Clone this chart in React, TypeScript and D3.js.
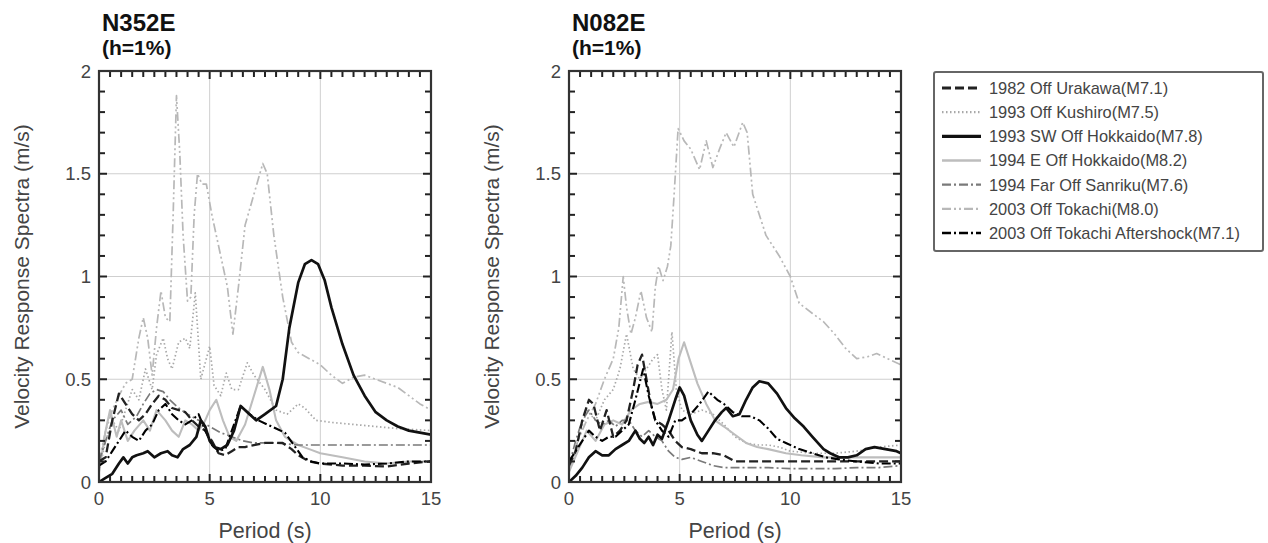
import React from 'react';
import * as d3 from 'd3';

type Pt = [number, number];

// ---------- axis / tick definitions ----------
const PERIOD_TICKS = [0, 5, 10, 15];
const VALUE_TICKS = [0, 0.5, 1, 1.5, 2];
const PERIOD_GRID = [5, 10];
const VALUE_GRID = [0.5, 1, 1.5];
const PERIOD_DOMAIN: [number, number] = [0, 15];
const VALUE_DOMAIN: [number, number] = [0, 2];

const PANEL_TITLES = ['N352E', 'N082E'];
const DAMPING_LABEL = '(h=1%)';
const X_LABEL = 'Period (s)';
const Y_LABEL = 'Velocity Response Spectra (m/s)';

const SERIES_NAMES = [
  '1982 Off Urakawa(M7.1)',
  '1993 Off Kushiro(M7.5)',
  '1993 SW Off Hokkaido(M7.8)',
  '1994 E Off Hokkaido(M8.2)',
  '1994 Far Off Sanriku(M7.6)',
  '2003 Off Tokachi(M8.0)',
  '2003 Off Tokachi Aftershock(M7.1)',
];

// ---------- N352E data [period (s), velocity (m/s)] ----------
const N352E_URAKAWA: Pt[] = [[0,0.1],[0.3,0.12],[0.6,0.3],[0.9,0.43],[1.2,0.38],[1.5,0.33],[1.8,0.3],[2.1,0.33],[2.4,0.38],[2.7,0.42],[3.0,0.4],[3.3,0.36],[3.6,0.35],[3.9,0.34],[4.2,0.3],[4.5,0.27],[4.8,0.25],[5.1,0.2],[5.4,0.14],[5.7,0.13],[6.0,0.15],[6.3,0.17],[6.6,0.17],[7,0.18],[7.5,0.19],[8,0.19],[8.3,0.19],[8.7,0.16],[9,0.13],[9.5,0.1],[10,0.09],[11,0.08],[12,0.08],[13,0.075],[14,0.09],[15,0.1]];
const N352E_KUSHIRO: Pt[] = [[0,0.05],[0.3,0.2],[0.6,0.3],[0.9,0.25],[1.2,0.35],[1.5,0.45],[1.8,0.4],[2.1,0.55],[2.4,0.45],[2.6,0.62],[2.9,0.7],[3.1,0.6],[3.3,0.55],[3.6,0.68],[3.9,0.7],[4.1,0.65],[4.35,0.92],[4.6,0.5],[4.85,0.6],[5.0,0.66],[5.2,0.47],[5.5,0.42],[5.75,0.53],[6.0,0.45],[6.3,0.45],[6.7,0.58],[7.0,0.52],[7.5,0.45],[8.0,0.35],[8.5,0.33],[9.0,0.38],[9.3,0.36],[9.8,0.3],[10.5,0.29],[11.5,0.28],[12.5,0.27],[13.5,0.26],[15,0.25]];
const N352E_SW_HOKKAIDO: Pt[] = [[0,0.0],[0.3,0.02],[0.6,0.04],[0.9,0.09],[1.1,0.12],[1.3,0.09],[1.5,0.12],[1.7,0.13],[2.0,0.14],[2.2,0.15],[2.5,0.12],[2.8,0.14],[3.1,0.15],[3.3,0.13],[3.55,0.12],[3.8,0.16],[4.1,0.18],[4.4,0.22],[4.6,0.3],[4.8,0.27],[5.0,0.2],[5.2,0.17],[5.5,0.16],[5.8,0.18],[6.1,0.25],[6.4,0.37],[6.8,0.33],[7.1,0.3],[7.5,0.33],[8.0,0.37],[8.3,0.5],[8.6,0.75],[9.0,0.97],[9.3,1.06],[9.6,1.08],[9.9,1.06],[10.2,0.98],[10.5,0.85],[11.0,0.67],[11.5,0.52],[12.0,0.42],[12.5,0.34],[13.0,0.3],[13.5,0.27],[14.0,0.25],[14.5,0.24],[15,0.23]];
const N352E_E_HOKKAIDO: Pt[] = [[0,0.05],[0.3,0.25],[0.5,0.35],[0.8,0.22],[1.0,0.3],[1.3,0.2],[1.6,0.25],[2.0,0.3],[2.3,0.25],[2.6,0.35],[3.0,0.3],[3.3,0.25],[3.6,0.22],[3.9,0.3],[4.2,0.28],[4.5,0.25],[4.8,0.3],[5.0,0.35],[5.3,0.4],[5.6,0.3],[5.9,0.22],[6.2,0.2],[6.6,0.28],[7.0,0.42],[7.4,0.56],[7.7,0.45],[8.0,0.3],[8.4,0.22],[9.0,0.18],[9.5,0.16],[10,0.14],[10.5,0.13],[11,0.12],[12,0.1],[13,0.09],[14,0.1],[15,0.1]];
const N352E_SANRIKU: Pt[] = [[0,0.1],[0.3,0.2],[0.6,0.3],[1.0,0.35],[1.3,0.28],[1.7,0.32],[2.0,0.38],[2.3,0.43],[2.6,0.45],[2.9,0.44],[3.2,0.4],[3.6,0.36],[4.0,0.33],[4.5,0.3],[5.0,0.27],[5.5,0.24],[6.0,0.22],[6.5,0.2],[7.0,0.19],[7.5,0.19],[8.0,0.19],[9.0,0.18],[10,0.18],[11,0.18],[12,0.18],[13,0.18],[14,0.18],[15,0.18]];
const N352E_TOKACHI: Pt[] = [[0,0.1],[0.3,0.25],[0.6,0.35],[0.9,0.42],[1.2,0.48],[1.5,0.5],[1.8,0.7],[2.0,0.8],[2.2,0.7],[2.4,0.52],[2.6,0.75],[2.8,0.93],[3.0,0.8],[3.2,0.78],[3.35,1.3],[3.5,1.88],[3.65,1.6],[3.8,1.2],[4.0,0.88],[4.15,0.9],[4.3,1.3],[4.45,1.5],[4.65,1.45],[4.85,1.45],[5.1,1.3],[5.5,1.1],[5.8,0.95],[6.05,0.72],[6.3,0.95],[6.6,1.25],[7.0,1.4],[7.4,1.55],[7.6,1.5],[7.9,1.2],[8.3,0.9],[8.7,0.68],[9.0,0.63],[9.5,0.6],[10,0.57],[10.5,0.52],[11,0.48],[11.5,0.51],[12,0.52],[12.5,0.5],[13,0.48],[13.5,0.46],[14,0.42],[14.5,0.38],[15,0.35]];
const N352E_AFTERSHOCK: Pt[] = [[0,0.08],[0.3,0.1],[0.6,0.15],[0.9,0.2],[1.2,0.25],[1.5,0.22],[1.8,0.2],[2.1,0.25],[2.4,0.28],[2.7,0.35],[3.0,0.38],[3.3,0.33],[3.6,0.3],[3.9,0.28],[4.2,0.3],[4.5,0.33],[4.8,0.25],[5.1,0.18],[5.4,0.15],[5.7,0.16],[6.0,0.25],[6.4,0.37],[6.8,0.33],[7.2,0.3],[7.6,0.28],[8.0,0.26],[8.4,0.24],[8.8,0.18],[9.2,0.12],[9.6,0.1],[10,0.09],[11,0.09],[12,0.085],[13,0.09],[14,0.1],[15,0.1]];

// ---------- N082E data ----------
const N082E_URAKAWA: Pt[] = [[0,0.08],[0.3,0.15],[0.6,0.3],[0.9,0.4],[1.1,0.38],[1.4,0.25],[1.7,0.35],[2.0,0.22],[2.3,0.25],[2.6,0.3],[2.9,0.45],[3.1,0.57],[3.3,0.62],[3.5,0.5],[3.7,0.38],[3.9,0.3],[4.2,0.28],[4.5,0.25],[4.8,0.2],[5.1,0.17],[5.5,0.16],[6.0,0.14],[6.5,0.14],[7.0,0.13],[7.5,0.1],[8,0.1],[9,0.1],[10,0.1],[11,0.1],[12,0.1],[13,0.1],[14,0.1],[15,0.1]];
const N082E_KUSHIRO: Pt[] = [[0,0.05],[0.4,0.2],[0.8,0.35],[1.2,0.3],[1.6,0.4],[2.0,0.45],[2.3,0.55],[2.6,0.72],[2.9,0.55],[3.2,0.5],[3.5,0.55],[3.8,0.6],[4.0,0.62],[4.2,0.45],[4.4,0.35],[4.65,0.73],[4.85,0.45],[5.1,0.35],[5.5,0.33],[6.0,0.35],[6.5,0.33],[7.0,0.28],[7.5,0.22],[8.0,0.19],[8.5,0.18],[9,0.18],[9.5,0.17],[10,0.15],[11,0.14],[12,0.14],[13,0.15],[14,0.17],[15,0.18]];
const N082E_SW_HOKKAIDO: Pt[] = [[0,0.0],[0.3,0.03],[0.6,0.07],[0.9,0.12],[1.2,0.15],[1.5,0.13],[1.8,0.13],[2.1,0.16],[2.4,0.18],[2.7,0.2],[3.0,0.25],[3.2,0.21],[3.4,0.19],[3.6,0.22],[3.8,0.18],[4.0,0.23],[4.2,0.21],[4.5,0.3],[4.8,0.4],[5.0,0.46],[5.2,0.42],[5.5,0.3],[5.8,0.23],[6.0,0.2],[6.3,0.25],[6.6,0.3],[6.9,0.34],[7.1,0.36],[7.4,0.32],[7.7,0.33],[8.0,0.4],[8.3,0.46],[8.6,0.49],[9.0,0.48],[9.4,0.43],[9.8,0.36],[10.2,0.31],[10.6,0.27],[11.0,0.22],[11.5,0.16],[11.8,0.14],[12.2,0.12],[12.6,0.12],[13.0,0.13],[13.4,0.16],[13.8,0.17],[14.3,0.16],[14.8,0.15],[15,0.14]];
const N082E_E_HOKKAIDO: Pt[] = [[0,0.05],[0.4,0.15],[0.8,0.25],[1.2,0.2],[1.6,0.28],[2.0,0.3],[2.4,0.28],[2.8,0.35],[3.2,0.38],[3.6,0.39],[4.0,0.38],[4.4,0.4],[4.7,0.45],[4.95,0.6],[5.2,0.68],[5.5,0.58],[5.8,0.48],[6.2,0.38],[6.6,0.3],[7.0,0.27],[7.5,0.23],[8.0,0.19],[8.5,0.17],[9.0,0.16],[9.8,0.14],[10.5,0.13],[11.5,0.12],[12.5,0.12],[13.5,0.12],[14.5,0.12],[15,0.12]];
const N082E_SANRIKU: Pt[] = [[0,0.08],[0.3,0.2],[0.6,0.3],[0.9,0.35],[1.2,0.3],[1.5,0.28],[1.8,0.3],[2.1,0.27],[2.4,0.3],[2.7,0.3],[3.0,0.25],[3.3,0.22],[3.6,0.25],[3.9,0.22],[4.2,0.2],[4.5,0.15],[4.8,0.12],[5.1,0.11],[5.5,0.12],[6.0,0.1],[6.5,0.08],[7.0,0.07],[8,0.07],[9,0.07],[10,0.065],[11,0.065],[12,0.065],[13,0.07],[14,0.07],[15,0.08]];
const N082E_TOKACHI: Pt[] = [[0,0.05],[0.4,0.2],[0.8,0.3],[1.2,0.38],[1.6,0.5],[2.0,0.6],[2.25,0.75],[2.45,1.0],[2.6,0.85],[2.8,0.72],[3.0,0.8],[3.25,0.93],[3.5,0.8],[3.75,0.73],[3.9,0.95],[4.05,1.05],[4.25,0.98],[4.45,1.05],[4.6,1.15],[4.75,1.4],[4.93,1.72],[5.2,1.66],[5.5,1.62],[5.9,1.52],[6.2,1.66],[6.5,1.53],[6.8,1.62],[7.1,1.7],[7.45,1.63],[7.85,1.75],[8.05,1.7],[8.3,1.4],[8.9,1.2],[9.5,1.1],[10.0,1.0],[10.4,0.87],[11.0,0.82],[11.5,0.78],[12.0,0.72],[12.5,0.65],[13.0,0.6],[13.5,0.61],[13.9,0.625],[14.4,0.6],[15,0.57]];
const N082E_AFTERSHOCK: Pt[] = [[0,0.1],[0.3,0.15],[0.6,0.2],[0.9,0.25],[1.2,0.22],[1.5,0.2],[1.8,0.22],[2.1,0.22],[2.4,0.25],[2.7,0.28],[3.0,0.4],[3.35,0.55],[3.6,0.42],[3.9,0.3],[4.2,0.25],[4.5,0.22],[4.8,0.3],[5.1,0.3],[5.5,0.33],[5.9,0.38],[6.3,0.44],[6.7,0.4],[7.0,0.38],[7.4,0.34],[7.8,0.32],[8.2,0.32],[8.6,0.3],[9.0,0.26],[9.4,0.21],[9.8,0.19],[10.4,0.16],[11.0,0.14],[11.6,0.12],[12.2,0.11],[13,0.1],[14,0.09],[15,0.09]];

const N352E_SERIES = [N352E_URAKAWA, N352E_KUSHIRO, N352E_SW_HOKKAIDO, N352E_E_HOKKAIDO, N352E_SANRIKU, N352E_TOKACHI, N352E_AFTERSHOCK];
const N082E_SERIES = [N082E_URAKAWA, N082E_KUSHIRO, N082E_SW_HOKKAIDO, N082E_E_HOKKAIDO, N082E_SANRIKU, N082E_TOKACHI, N082E_AFTERSHOCK];
const PANEL_SERIES = [N352E_SERIES, N082E_SERIES];

// ---------- styles (kept apart from the data) ----------
const LINE_STYLES = [
  { stroke: '#222', width: 2.3, dash: '9,4' },
  { stroke: '#a8a8a8', width: 1.7, dash: '1.5,2.5' },
  { stroke: '#111', width: 2.7, dash: '' },
  { stroke: '#bdbdbd', width: 2.1, dash: '' },
  { stroke: '#7a7a7a', width: 1.7, dash: '9,3,2,3' },
  { stroke: '#b8b8b8', width: 1.7, dash: '9,3,2,3,2,3' },
  { stroke: '#000', width: 2.1, dash: '9,3,2,3' },
];
// draw order: light lines first, dark on top
const DRAW_ORDER = [5, 1, 3, 4, 0, 6, 2];

const FONT = '"Liberation Sans", Arial, Helvetica, sans-serif';
const PANEL_X = [99, 569];
const PLOT_W = 332;
const PLOT_TOP = 71;
const PLOT_BOTTOM = 482;

function Panel({ idx }: { idx: number }) {
  const x0 = PANEL_X[idx];
  const xs = d3.scaleLinear().domain(PERIOD_DOMAIN).range([x0, x0 + PLOT_W]);
  const ys = d3.scaleLinear().domain(VALUE_DOMAIN).range([PLOT_BOTTOM, PLOT_TOP]);
  const line = d3.line<Pt>().x(d => xs(d[0])).y(d => ys(d[1]));
  const xMinor = d3.range(0, 15.001, 0.5);
  const yMinor = d3.range(0, 2.0001, 0.1);
  const series = PANEL_SERIES[idx];
  const clipId = `clip${idx}`;
  const isMajorX = (v: number) => Math.abs(v - Math.round(v / 5) * 5) < 1e-6;
  const isMajorY = (v: number) => Math.abs(v * 2 - Math.round(v * 2)) < 1e-6;
  return (
    <g>
      <defs>
        <clipPath id={clipId}>
          <rect x={xs(0)} y={ys(2)} width={PLOT_W} height={PLOT_BOTTOM - PLOT_TOP} />
        </clipPath>
      </defs>
      <text x={x0 + 3} y={31} fontFamily={FONT} fontWeight="bold" fontSize={24} fill="#111">{PANEL_TITLES[idx]}</text>
      <text x={x0 + 3} y={55} fontFamily={FONT} fontWeight="bold" fontSize={21} fill="#111">{DAMPING_LABEL}</text>
      {PERIOD_GRID.map(v => (
        <line key={'gx' + v} x1={xs(v)} x2={xs(v)} y1={ys(0)} y2={ys(2)} stroke="#cfcfcf" strokeWidth={1} />
      ))}
      {VALUE_GRID.map(v => (
        <line key={'gy' + v} x1={xs(0)} x2={xs(15)} y1={ys(v)} y2={ys(v)} stroke="#cfcfcf" strokeWidth={1} />
      ))}
      <g clipPath={`url(#${clipId})`}>
        {DRAW_ORDER.map(si => {
          const st = LINE_STYLES[si];
          return (
            <path key={si} d={line(series[si]) || ''} fill="none" stroke={st.stroke}
              strokeWidth={st.width} strokeDasharray={st.dash || undefined}
              strokeLinejoin="round" strokeLinecap="butt" />
          );
        })}
      </g>
      <g stroke="#222" strokeWidth={2}>
        {xMinor.map(v => {
          const len = isMajorX(v) ? 8 : 6;
          return (
            <g key={'tx' + v}>
              <line x1={xs(v)} x2={xs(v)} y1={ys(0)} y2={ys(0) - len} />
              <line x1={xs(v)} x2={xs(v)} y1={ys(2)} y2={ys(2) + len} />
            </g>
          );
        })}
        {yMinor.map(v => {
          const len = isMajorY(v) ? 8 : 6;
          return (
            <g key={'ty' + v.toFixed(1)}>
              <line x1={xs(0)} x2={xs(0) + len} y1={ys(v)} y2={ys(v)} />
              <line x1={xs(15)} x2={xs(15) - len} y1={ys(v)} y2={ys(v)} />
            </g>
          );
        })}
      </g>
      <rect x={xs(0)} y={ys(2)} width={PLOT_W} height={PLOT_BOTTOM - PLOT_TOP} fill="none" stroke="#333" strokeWidth={2.2} />
      {PERIOD_TICKS.map(v => (
        <text key={'lx' + v} x={xs(v)} y={505} textAnchor="middle" fontFamily={FONT} fontSize={18.5} fill="#444">{v}</text>
      ))}
      {VALUE_TICKS.map(v => (
        <text key={'ly' + v} x={x0 - 8} y={ys(v)} dy="0.36em" textAnchor="end" fontFamily={FONT} fontSize={18.5} fill="#444">{v}</text>
      ))}
      <text x={(xs(0) + xs(15)) / 2} y={538} textAnchor="middle" fontFamily={FONT} fontSize={21.5} fill="#444">{X_LABEL}</text>
      <text transform={`translate(${x0 - 70},${(PLOT_TOP + PLOT_BOTTOM) / 2}) rotate(-90)`} textAnchor="middle"
        fontFamily={FONT} fontSize={21} fill="#444">{Y_LABEL}</text>
    </g>
  );
}

function Legend() {
  const lx = 934, ly = 72, lw = 329, lh = 179;
  const rowY = d3.scaleLinear().domain([0, SERIES_NAMES.length - 1]).range([88, 233]);
  return (
    <g>
      <rect x={lx} y={ly} width={lw} height={lh} fill="#fff" stroke="#666" strokeWidth={2} rx={2} />
      {SERIES_NAMES.map((name, i) => {
        const st = LINE_STYLES[i];
        const y = rowY(i);
        return (
          <g key={name}>
            <line x1={942} x2={981} y1={y} y2={y} stroke={st.stroke} strokeWidth={st.width + 0.5}
              strokeDasharray={st.dash || undefined} />
            <text x={989} y={y} dy="0.36em" fontFamily={FONT} fontSize={16.4} fill="#444">{name}</text>
          </g>
        );
      })}
    </g>
  );
}

export default function App() {
  return (
    <svg width={1268} height={543} viewBox="0 0 1268 543"
      style={{ position: 'absolute', left: 0, top: 0, display: 'block', background: '#fff' }}>
      <rect x={0} y={0} width={1268} height={543} fill="#fff" />
      <Panel idx={0} />
      <Panel idx={1} />
      <Legend />
    </svg>
  );
}
